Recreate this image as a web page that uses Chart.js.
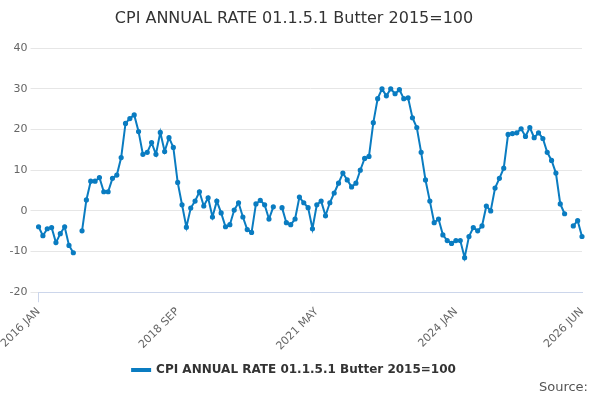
<!DOCTYPE html>
<html><head><meta charset="utf-8">
<script src="https://cdn.jsdelivr.net/npm/chart.js@4"></script>
<style>html,body{margin:0;padding:0;background:#fff}#w{position:relative;width:600px;height:400px}
#src{position:absolute;right:12px;bottom:6px;font:13px "DejaVu Sans",sans-serif;color:#555}</style>
</head><body><div id="w"><canvas id="c" width="600" height="400"></canvas><div id="src">Source:</div></div>
<script>
const months=["JAN","FEB","MAR","APR","MAY","JUN","JUL","AUG","SEP","OCT","NOV","DEC"];
const categories=[];
for(let i=0;i<126;i++){categories.push((2016+Math.floor(i/12))+" "+months[i%12]);}
const shownTicks=["2016 JAN","2018 SEP","2021 MAY","2024 JAN","2026 JUN"];
const values=[-3.9,-6.1,-4.4,-4.1,-7.8,-5.6,-3.9,-8.5,-10.3,null,
-4.9,2.7,7.3,7.3,8.2,4.7,4.7,8,8.8,13.1,
21.5,22.7,23.6,19.5,13.9,14.4,16.8,13.9,19.3,14.6,
18,15.6,7,1.5,-4,0.7,2.4,4.7,1.2,3.2,
-1.5,2.4,-0.5,-3.9,-3.4,0.2,2,-1.5,-4.6,-5.3,
1.7,2.6,1.5,-2,1,null,0.8,-2.9,-3.4,-2,
3.4,2,0.8,-4.4,1.5,2.4,-1.2,2,4.4,6.8,
9.3,7.6,5.9,6.8,10,12.9,13.4,21.7,27.6,30,
28.3,30,28.8,29.8,27.6,27.8,22.9,20.5,14.4,7.6,
2.4,-2.9,-2,-5.9,-7.3,-8,-7.3,-7.3,-11.5,-6.3,
-4.1,-4.9,-3.7,1.2,0,5.6,8,10.5,18.8,19,
19.2,20.2,18.3,20.5,18,19.2,17.8,14.4,12.4,9.3,
1.7,-0.7,null,-3.7,-2.4,-6.3];
const font='"DejaVu Sans", sans-serif';
new Chart(document.getElementById('c'),{type:'line',
data:{labels:categories,datasets:[{label:'CPI ANNUAL RATE 01.1.5.1 Butter 2015=100',data:values,
borderColor:'#0a7cc1',backgroundColor:'#0a7cc1',borderWidth:2,pointRadius:1.6,pointHoverRadius:1.6,spanGaps:false,tension:0}]},
options:{responsive:false,animation:false,
layout:{padding:{left:6,right:18,top:0,bottom:14}},
plugins:{title:{display:true,text:'CPI ANNUAL RATE 01.1.5.1 Butter 2015=100',color:'#333',font:{family:font,size:16,weight:'normal'},padding:{top:9,bottom:20}},
legend:{position:'bottom',labels:{color:'#333',font:{family:font,size:12,weight:'bold'},boxWidth:18,boxHeight:2,padding:8}},tooltip:{enabled:false}},
scales:{y:{min:-20,max:40,ticks:{stepSize:10,color:'#666',font:{family:font,size:11}},grid:{color:'#e6e6e6'},border:{display:false}},
x:{ticks:{autoSkip:false,maxRotation:45,minRotation:45,color:'#666',font:{family:font,size:11},
callback:function(v,i){const l=categories[i];return shownTicks.includes(l)?l:null;}},
grid:{drawOnChartArea:false,tickLength:10,color:function(ctx){const l=categories[ctx.index];return shownTicks.includes(l)?'#ccd6eb':'rgba(0,0,0,0)';}},
border:{color:'#ccd6eb'}}}}});
</script></body></html>
